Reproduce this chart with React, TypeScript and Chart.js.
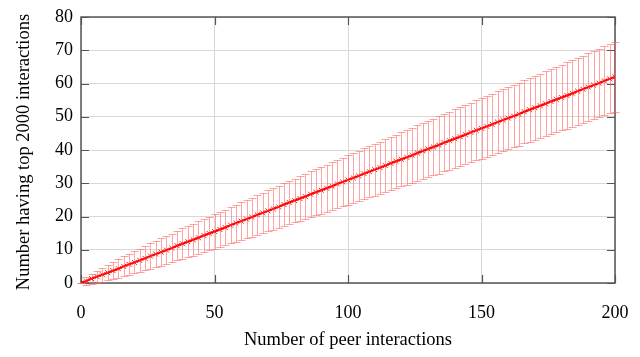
import React, { useEffect, useRef } from "react";
import { Chart, registerables } from "chart.js";

Chart.register(...registerables);

const xValues = [
  0, 2, 4, 6, 8, 10, 12, 14, 16, 18, 20, 22, 24, 26, 28, 30, 32, 34, 36, 38,
  40, 42, 44, 46, 48, 50, 52, 54, 56, 58, 60, 62, 64, 66, 68, 70, 72, 74, 76, 78,
  80, 82, 84, 86, 88, 90, 92, 94, 96, 98, 100, 102, 104, 106, 108, 110, 112, 114, 116, 118,
  120, 122, 124, 126, 128, 130, 132, 134, 136, 138, 140, 142, 144, 146, 148, 150, 152, 154, 156, 158,
  160, 162, 164, 166, 168, 170, 172, 174, 176, 178, 180, 182, 184, 186, 188, 190, 192, 194, 196, 198, 200,
];

const meanValues = [
  0.0, 0.6, 1.3, 1.9, 2.5, 3.1, 3.7, 4.3, 5.0, 5.6, 6.2, 6.8, 7.4, 8.1, 8.7, 9.3, 9.9, 10.5, 11.2, 11.8,
  12.4, 13.0, 13.6, 14.3, 14.9, 15.5, 16.1, 16.7, 17.4, 18.0, 18.6, 19.2, 19.8, 20.5, 21.1, 21.7, 22.3, 22.9, 23.6, 24.2,
  24.8, 25.4, 26.0, 26.7, 27.3, 27.9, 28.5, 29.1, 29.8, 30.4, 31.0, 31.6, 32.2, 32.9, 33.5, 34.1, 34.7, 35.3, 36.0, 36.6,
  37.2, 37.8, 38.4, 39.1, 39.7, 40.3, 40.9, 41.5, 42.2, 42.8, 43.4, 44.0, 44.6, 45.3, 45.9, 46.5, 47.1, 47.7, 48.4, 49.0,
  49.6, 50.2, 50.8, 51.5, 52.1, 52.7, 53.3, 53.9, 54.6, 55.2, 55.8, 56.4, 57.0, 57.7, 58.3, 58.9, 59.5, 60.1, 60.8, 61.4, 62.0,
];

const errValues = [
  0.0, 1.1, 1.5, 1.8, 2.1, 2.3, 2.6, 2.8, 3.0, 3.1, 3.3, 3.5, 3.6, 3.8, 3.9, 4.1, 4.2, 4.3, 4.4, 4.6,
  4.7, 4.8, 4.9, 5.0, 5.1, 5.2, 5.3, 5.4, 5.5, 5.6, 5.7, 5.8, 5.9, 6.0, 6.1, 6.2, 6.3, 6.4, 6.5, 6.5,
  6.6, 6.7, 6.8, 6.9, 6.9, 7.0, 7.1, 7.2, 7.3, 7.3, 7.4, 7.5, 7.5, 7.6, 7.7, 7.8, 7.8, 7.9, 8.0, 8.0,
  8.1, 8.2, 8.2, 8.3, 8.4, 8.4, 8.5, 8.6, 8.6, 8.7, 8.8, 8.8, 8.9, 8.9, 9.0, 9.1, 9.1, 9.2, 9.2, 9.3,
  9.4, 9.4, 9.5, 9.5, 9.6, 9.6, 9.7, 9.8, 9.8, 9.9, 9.9, 10.0, 10.0, 10.1, 10.1, 10.2, 10.3, 10.3, 10.4, 10.4, 10.5,
];

const xTicks = [0, 50, 100, 150, 200];
const yTicks = [0, 10, 20, 30, 40, 50, 60, 70, 80];
const xTitle = "Number of peer interactions";
const yTitle = "Number having top 2000 interactions";

const FONT = "'Liberation Serif', 'Times New Roman', serif";

const framePlugin = {
  id: "frame",
  beforeDatasetsDraw(chart: any) {
    const { ctx, chartArea: a, scales } = chart;
    const xs = scales.x;
    const ys = scales.y;
    ctx.save();
    ctx.strokeStyle = "#555555";
    ctx.lineWidth = 1.5;
    ctx.strokeRect(a.left, a.top, a.right - a.left, a.bottom - a.top);
    ctx.lineWidth = 1.2;
    const len = 8;
    ctx.beginPath();
    for (const v of yTicks) {
      const py = Math.round(ys.getPixelForValue(v)) + 0.5;
      ctx.moveTo(a.left, py);
      ctx.lineTo(a.left + len, py);
      ctx.moveTo(a.right, py);
      ctx.lineTo(a.right - len, py);
    }
    for (const v of xTicks) {
      const px = Math.round(xs.getPixelForValue(v)) + 0.5;
      ctx.moveTo(px, a.bottom);
      ctx.lineTo(px, a.bottom - len);
      ctx.moveTo(px, a.top);
      ctx.lineTo(px, a.top + len);
    }
    ctx.stroke();
    ctx.restore();
  },
};

const errorBarPlugin = {
  id: "errbars",
  beforeDatasetsDraw(chart: any) {
    const { ctx, scales } = chart;
    const xs = scales.x;
    const ys = scales.y;
    ctx.save();
    ctx.strokeStyle = "rgba(255, 100, 100, 0.6)";
    ctx.lineWidth = 1;
    ctx.beginPath();
    for (let i = 0; i < xValues.length; i++) {
      const px = Math.round(xs.getPixelForValue(xValues[i])) + 0.5;
      const top = Math.round(ys.getPixelForValue(meanValues[i] + errValues[i])) + 0.5;
      const bot = Math.round(ys.getPixelForValue(meanValues[i] - errValues[i])) + 0.5;
      ctx.moveTo(px, top);
      ctx.lineTo(px, bot);
      ctx.moveTo(px - 4, top);
      ctx.lineTo(px + 4, top);
      ctx.moveTo(px - 4, bot);
      ctx.lineTo(px + 4, bot);
    }
    ctx.stroke();
    ctx.restore();
  },
};

const titlePlugin = {
  id: "titles",
  afterDraw(chart: any) {
    const { ctx, chartArea: a } = chart;
    ctx.save();
    ctx.fillStyle = "#000";
    ctx.font = `18.5px ${FONT}`;
    ctx.textAlign = "center";
    ctx.textBaseline = "alphabetic";
    ctx.fillText(xTitle, (a.left + a.right) / 2, 345);
    ctx.translate(29, (a.top + a.bottom) / 2 + 2);
    ctx.rotate(-Math.PI / 2);
    ctx.fillText(yTitle, 0, 0);
    ctx.restore();
  },
};

export default function App() {
  const ref = useRef<HTMLCanvasElement | null>(null);

  useEffect(() => {
    if (!ref.current) return;
    const chart = new Chart(ref.current, {
      type: "line",
      data: {
        datasets: [
          {
            data: xValues.map((x, i) => ({ x, y: meanValues[i] })),
            borderColor: "#ff0000",
            backgroundColor: "#ff0000",
            borderWidth: 2,
            pointStyle: "crossRot",
            pointRadius: 3.5,
            pointBorderWidth: 1,
            pointBorderColor: "#ff2020",
            tension: 0,
            fill: false,
          },
        ],
      },
      options: {
        responsive: false,
        animation: false,
        layout: { padding: { top: 17, right: 25, left: 0, bottom: 0 } },
        plugins: {
          legend: { display: false },
          tooltip: { enabled: false },
        },
        scales: {
          x: {
            type: "linear",
            min: 0,
            max: 200,
            afterBuildTicks: (s: any) => {
              s.ticks = xTicks.map((v) => ({ value: v }));
            },
            afterFit: (s: any) => {
              s.height = 74;
              s.paddingLeft = 0;
              s.paddingRight = 0;
            },
            grid: { color: "#d8d8d8", lineWidth: 1, drawTicks: false },
            border: { display: false },
            ticks: {
              padding: 19,
              color: "#000",
              font: { family: FONT, size: 18 },
              maxRotation: 0,
            },
          },
          y: {
            type: "linear",
            min: 0,
            max: 80,
            afterBuildTicks: (s: any) => {
              s.ticks = yTicks.map((v) => ({ value: v }));
            },
            afterFit: (s: any) => {
              s.width = 81;
              s.paddingTop = 0;
              s.paddingBottom = 0;
            },
            grid: { color: "#d8d8d8", lineWidth: 1, drawTicks: false },
            border: { display: false },
            ticks: {
              padding: 8,
              color: "#000",
              font: { family: FONT, size: 18 },
            },
          },
        },
      },
      plugins: [framePlugin, errorBarPlugin, titlePlugin],
    });
    return () => chart.destroy();
  }, []);

  return (
    <div style={{ position: "fixed", left: 0, top: 0, width: 640, height: 357, background: "#fff" }}>
      <canvas ref={ref} width={640} height={357} style={{ width: 640, height: 357, display: "block" }} />
    </div>
  );
}
